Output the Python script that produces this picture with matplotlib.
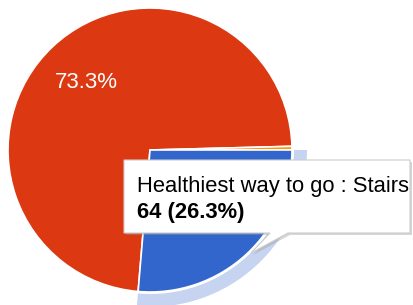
import matplotlib
matplotlib.use('Agg')
import matplotlib.pyplot as plt
from matplotlib.patches import Wedge, Polygon

# ---- data ----
categories = ['Elevator', 'Escalator', 'Stairs']
values = [178, 1, 64]
colors = ['#dc3912', '#ff9900', '#3366cc']
question = 'Healthiest way to go'
highlight = 2  # index of hovered slice (Stairs)

W, H = 413, 305
fig = plt.figure(figsize=(W / 100, H / 100), dpi=100)
ax = fig.add_axes([0, 0, 1, 1])

cx, cy, r = 150, 155, 142
font = 'Liberation Sans'

wedges, texts, autotexts = ax.pie(
    values, colors=colors, startangle=-94.8, counterclock=False,
    center=(cx, cy), radius=r,
    autopct=lambda p: f'{p:.1f}%' if p > 5 else '',
    pctdistance=0.65,
    wedgeprops=dict(edgecolor='white', linewidth=1.2),
    textprops=dict(color='white', fontsize=16, family=font))
# the hovered slice's label is hidden beneath the tooltip
autotexts[highlight].set_visible(False)

ax.set_xlim(0, W)
ax.set_ylim(0, H)
ax.set_aspect('equal')
ax.axis('off')

# hover halo ring around highlighted slice
hw = wedges[highlight]
halo = Wedge((cx, cy), r + 15, hw.theta1, hw.theta2, width=13,
             facecolor='#c6d4f1', edgecolor='none', zorder=1)
ax.add_patch(halo)

# tooltip (image pixel coords converted to y-up)
def P(x, y):
    return (x, H - y)

tip = [P(124, 160), P(410, 160), P(410, 233), P(288, 233), P(251, 253),
       P(270, 233), P(124, 233)]
shadow = [(x + 2, y - 2) for x, y in tip]
ax.add_patch(Polygon(shadow, closed=True, facecolor='#999999', alpha=0.4,
                     edgecolor='none', zorder=5))
ax.add_patch(Polygon(tip, closed=True, facecolor='white', edgecolor='#cccccc',
                     linewidth=0.8, zorder=6))

total = sum(values)
v = values[highlight]
ax.text(137, H - 192, f'{question} : {categories[highlight]}', fontsize=15.8,
        family=font, color='#000000', va='baseline', ha='left', zorder=7)
ax.text(137, H - 218, f'{v} ({v / total * 100:.1f}%)', fontsize=15.8,
        family=font, fontweight='bold', color='#000000', va='baseline',
        ha='left', zorder=7)

fig.savefig('out.png', dpi=100)
